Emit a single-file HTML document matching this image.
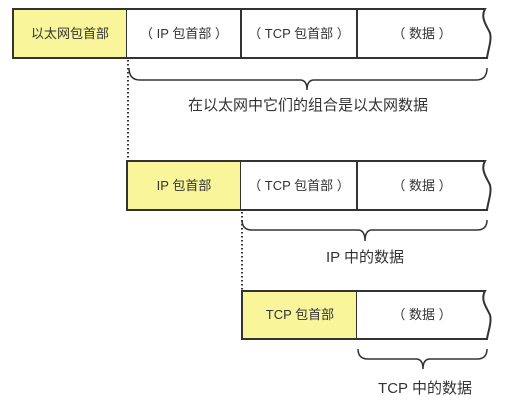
<!DOCTYPE html>
<html><head><meta charset="utf-8"><style>
html,body{margin:0;padding:0;background:#fff;}
svg text{font-family:"Liberation Sans","Noto Sans CJK SC",sans-serif;fill:#333;}
</style></head><body>
<svg width="526" height="403" viewBox="0 0 526 403" xmlns="http://www.w3.org/2000/svg">
<g stroke="#333" stroke-width="2" fill="none">
<!-- row1 -->
<rect x="13" y="9" width="114" height="49" fill="#f8f59b"/>
<path d="M127,9 H485 C480,18 487,26 490,33 C492,40 488,50 487,58 H127" fill="#fff"/>
<line x1="241" y1="9" x2="241" y2="58"/>
<line x1="357" y1="9" x2="357" y2="58"/>
<!-- row2 -->
<rect x="127" y="161" width="114" height="49" fill="#f8f59b"/>
<path d="M241,161 H485 C480,170 487,178 490,185 C492,192 488,202 487,210 H241" fill="#fff"/>
<line x1="357" y1="161" x2="357" y2="210"/>
<!-- row3 -->
<rect x="242" y="291" width="115" height="48" fill="#f8f59b"/>
<path d="M357,291 H485 C480,300 487,308 490,315 C492,322 488,332 487,339 H357" fill="#fff"/>
</g>
<g stroke="#333" stroke-width="1.5" fill="none">
<!-- braces -->
<path d="M129,68 Q129,80 140,80 H300 Q307,80 307,90 Q307,80 314,80 H476 Q487,80 487,68"/>
<path d="M242,220 Q242,230 252,230 H358 Q365,230 365,241 Q365,230 372,230 H477 Q487,230 487,220"/>
<path d="M358,349 Q358,359 368,359 H416 Q423,359 423,369 Q423,359 430,359 H477 Q487,359 487,349"/>
</g>
<g stroke="#333" stroke-width="2" stroke-dasharray="1.5,2.5">
<line x1="128" y1="60" x2="128" y2="160"/>
<line x1="242" y1="212" x2="242" y2="290"/>
</g>
<g font-size="13" text-anchor="middle">
<text x="70" y="38">以太网包首部</text>
<text x="184" y="38">（ IP 包首部 ）</text>
<text x="299" y="38">（ TCP 包首部 ）</text>
<text x="422" y="38">（ 数据 ）</text>
<text x="184" y="190">IP 包首部</text>
<text x="299" y="190">（ TCP 包首部 ）</text>
<text x="422" y="190">（ 数据 ）</text>
<text x="300" y="319">TCP 包首部</text>
<text x="422" y="319">（ 数据 ）</text>
</g>
<g font-size="15" text-anchor="middle">
<text x="308" y="110">在以太网中它们的组合是以太网数据</text>
<text x="365" y="262">IP 中的数据</text>
<text x="425" y="393">TCP 中的数据</text>
</g>
</svg>
</body></html>
